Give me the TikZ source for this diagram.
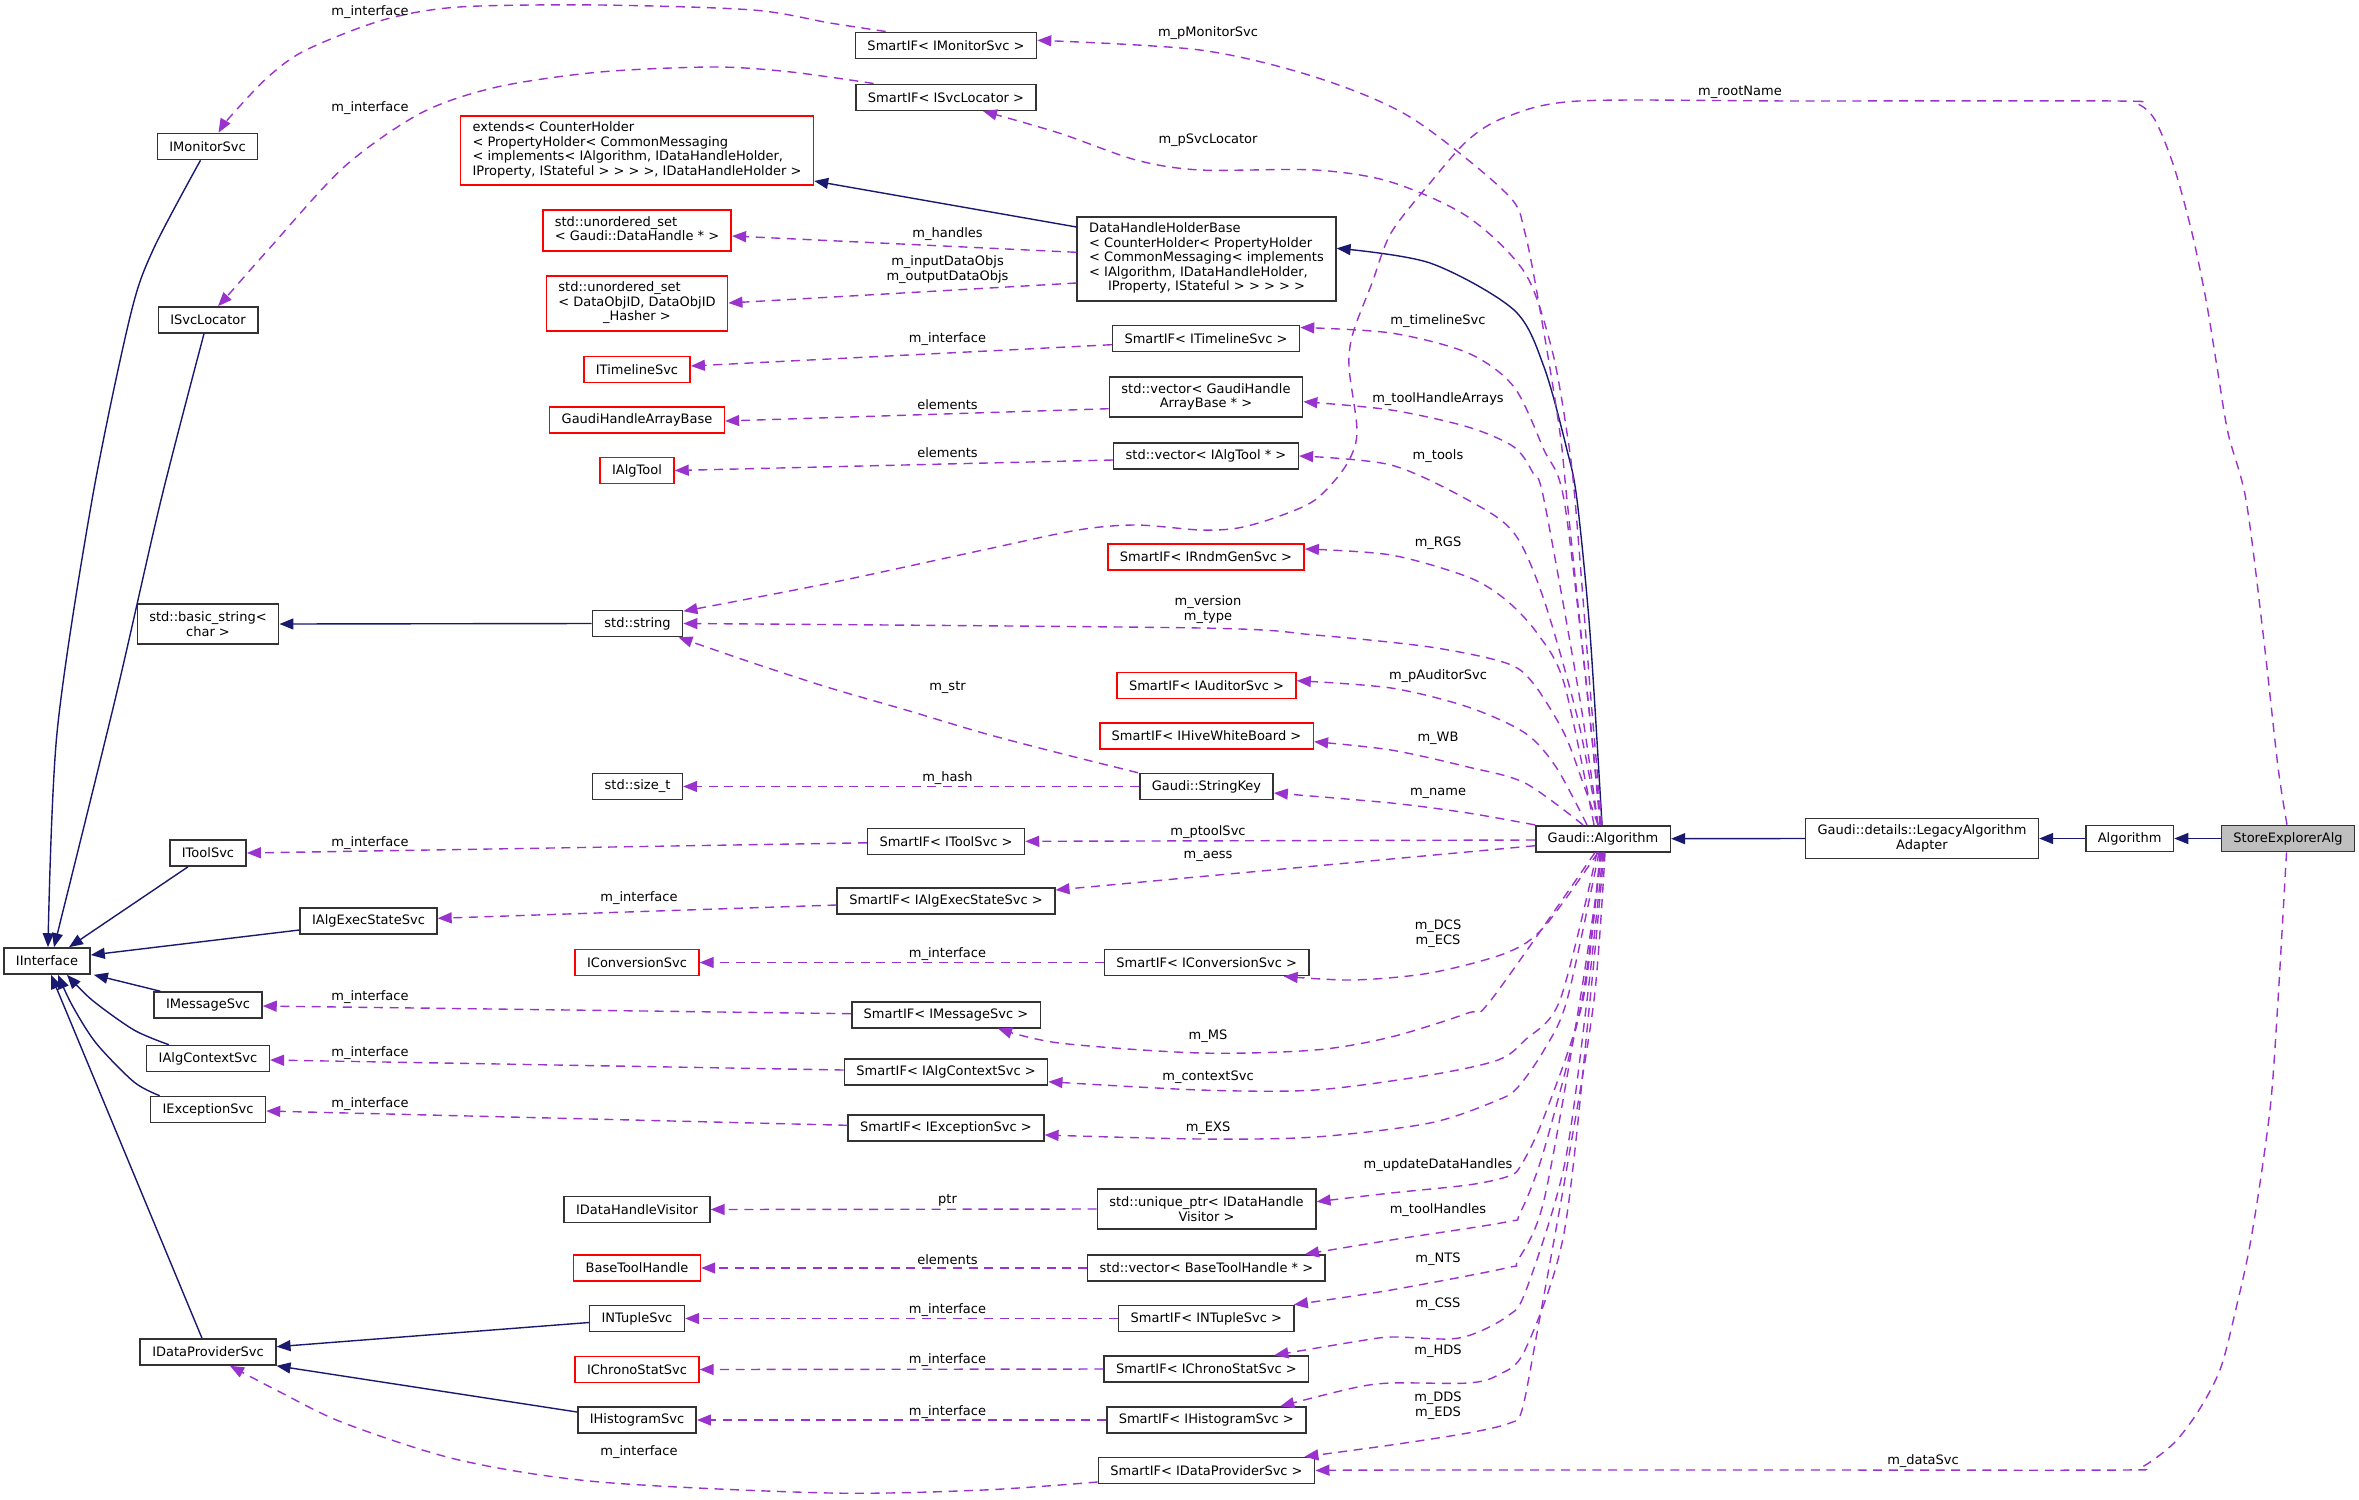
\documentclass[tikz,border=0pt]{standalone}
\usepackage{fontspec}
\setmainfont{DejaVu Sans}
\usetikzlibrary{arrows.meta,calc}
\definecolor{navyedge}{HTML}{191970}
\definecolor{orchidedge}{HTML}{9A32CD}
\definecolor{boxline}{HTML}{333333}
\definecolor{curfill}{HTML}{BFBFBF}
\newcommand{\lastcentered}[2]{\begin{tabular}{@{}l@{}}#1\\\multicolumn{1}{@{}c@{}}{#2}\end{tabular}}

\begin{document}
\begin{tikzpicture}[x=0.5pt,y=-0.5pt,font=\fontsize{6.5pt}{7.25pt}\selectfont,
	cls/.style={draw=boxline,line width=0.8pt,fill=white,inner xsep=6pt,inner ysep=0pt,minimum height=13pt},
	extcls/.style={cls,draw=red},
	curcls/.style={cls,fill=curfill},
	inherit/.style={navyedge,line width=0.7pt,-{Triangle[length=7pt,width=5.5pt]}},
	member/.style={orchidedge,line width=0.7pt,dash pattern=on 4.5pt off 3.3pt,-{Triangle[length=7pt,width=5.5pt]}},
	lbl/.style={inner sep=0pt,align=center}]
	\useasboundingbox (0,0) rectangle (2359,1499);

	%interfaces
	\node[cls] (iinterface) at (47,961) {IInterface};
	\node[cls] (imonitor) at (207.5,146.5) {IMonitorSvc};
	\node[cls] (isvcloc) at (208,320) {ISvcLocator};
	\node[cls,minimum height=20pt,align=center] (basicstr) at (208,624) {std::basic\_string<\\char >};
	\node[cls] (itoolsvc) at (208,853) {IToolSvc};
	\node[cls] (iaexec) at (368.5,921) {IAlgExecStateSvc};
	\node[cls] (imsgsvc) at (208,1005) {IMessageSvc};
	\node[cls] (ialgctx) at (208,1058.5) {IAlgContextSvc};
	\node[cls] (iexcsvc) at (208,1109.5) {IExceptionSvc};
	\node[cls] (idataprov) at (208,1352) {IDataProviderSvc};

	%used types
	\node[extcls,minimum height=34.5pt] (extends) at (637,150.5) {\lastcentered{extends< CounterHolder\\< PropertyHolder< CommonMessaging\\< implements< IAlgorithm, IDataHandleHolder,}{IProperty, IStateful > > > >, IDataHandleHolder >}};
	\node[extcls,minimum height=20.5pt] (usetdh) at (637,230.5) {\lastcentered{std::unordered\_set}{< Gaudi::DataHandle * >}};
	\node[extcls,minimum height=27.5pt] (usetobj) at (637,303.5) {\lastcentered{std::unordered\_set\\< DataObjID, DataObjID}{\_Hasher >}};
	\node[extcls] (itimeline) at (637,369.5) {ITimelineSvc};
	\node[extcls] (gharray) at (637,420) {GaudiHandleArrayBase};
	\node[extcls] (ialgtool) at (637,470.5) {IAlgTool};
	\node[cls] (stdstring) at (637.5,623.5) {std::string};
	\node[cls] (sizet) at (637.5,786.5) {std::size\_t};
	\node[extcls] (iconv) at (637,962.5) {IConversionSvc};
	\node[cls] (idhvisitor) at (637,1209.5) {IDataHandleVisitor};
	\node[extcls] (basetool) at (637,1268) {BaseToolHandle};
	\node[cls] (intuple) at (637,1318.5) {INTupleSvc};
	\node[extcls] (ichrono) at (637,1369.5) {IChronoStatSvc};
	\node[cls] (ihisto) at (637,1420) {IHistogramSvc};

	%members
	\node[cls] (spmon) at (946,45.3) {SmartIF< IMonitorSvc >};
	\node[cls] (spsvcloc) at (946,97.3) {SmartIF< ISvcLocator >};
	\node[cls,minimum height=42pt] (dhhb) at (1206.5,258.7) {\lastcentered{DataHandleHolderBase\\< CounterHolder< PropertyHolder\\< CommonMessaging< implements\\< IAlgorithm, IDataHandleHolder,}{IProperty, IStateful > > > > >}};
	\node[cls] (sptimeline) at (1206,338.5) {SmartIF< ITimelineSvc >};
	\node[cls,minimum height=20pt,align=center] (vecgh) at (1206,397) {std::vector< GaudiHandle\\ArrayBase * >};
	\node[cls] (vectool) at (1206,456) {std::vector< IAlgTool * >};
	\node[extcls] (sprndm) at (1206,557) {SmartIF< IRndmGenSvc >};
	\node[extcls] (spaudit) at (1206.5,685.5) {SmartIF< IAuditorSvc >};
	\node[extcls] (sphive) at (1206.5,736) {SmartIF< IHiveWhiteBoard >};
	\node[cls] (strkey) at (1206.4,786.5) {Gaudi::StringKey};
	\node[cls] (sptoolsvc) at (946,841.3) {SmartIF< IToolSvc >};
	\node[cls] (spaexec) at (946,901) {SmartIF< IAlgExecStateSvc >};
	\node[cls] (spconv) at (1206.7,962.5) {SmartIF< IConversionSvc >};
	\node[cls] (spmsg) at (946,1014.7) {SmartIF< IMessageSvc >};
	\node[cls] (spalgctx) at (946,1072) {SmartIF< IAlgContextSvc >};
	\node[cls] (spexc) at (946,1128) {SmartIF< IExceptionSvc >};
	\node[cls,minimum height=20pt,align=center] (uptr) at (1206.5,1209) {std::unique\_ptr< IDataHandle\\Visitor >};
	\node[cls] (vecbtool) at (1206.4,1268) {std::vector< BaseToolHandle * >};
	\node[cls] (spntuple) at (1206.3,1318.5) {SmartIF< INTupleSvc >};
	\node[cls] (spchrono) at (1206.4,1369) {SmartIF< IChronoStatSvc >};
	\node[cls] (sphisto) at (1206.3,1420) {SmartIF< IHistogramSvc >};
	\node[cls] (spdataprov) at (1206.5,1470.5) {SmartIF< IDataProviderSvc >};

	%class chain
	\node[cls] (galg) at (1603,838.7) {Gaudi::Algorithm};
	\node[cls,minimum height=20pt,align=center] (legacy) at (1922,838.5) {Gaudi::details::LegacyAlgorithm\\Adapter};
	\node[cls] (algorithm) at (2129.6,838.5) {Algorithm};
	\node[curcls] (storeexp) at (2288,838.5) {StoreExplorerAlg};

	%inheritance
	\draw[inherit] plot[smooth] coordinates {($(imonitor.south)+(-7,0)$) (153,250) (130,317) (92,500) (57,733) ($(iinterface.north)+(1,0)$)};
	\draw[inherit] plot[smooth] coordinates {($(isvcloc.south)+(-4,0)$) (161,500) (115,700) ($(iinterface.north)+(7,0)$)};
	\draw[inherit] ($(itoolsvc.south)+(-20,0)$) -- ($(iinterface.north)+(22,0)$);
	\draw[inherit] ($(iaexec.west)+(0,9)$) -- ($(iinterface.east)+(0,-6)$);
	\draw[inherit] ($(imsgsvc.north west)+(7,0)$) -- ($(iinterface.south east)+(3,0)$);
	\draw[inherit] plot[smooth] coordinates {($(ialgctx.north west)+(23,0)$) (134,1030) (92,1000) ($(iinterface.south)+(20,0)$)};
	\draw[inherit] plot[smooth] coordinates {($(iexcsvc.north west)+(10,0)$) (134,1082) (96,1043) (72,1005) ($(iinterface.south)+(11,0)$)};
	\draw[inherit] ($(idataprov.north)+(-6,0)$) -- ($(iinterface.south)+(4,0)$);
	\draw[inherit] ($(intuple.west)+(0,4)$) -- ($(idataprov.east)+(0,-5.3)$);
	\draw[inherit] ($(ihisto.west)+(0,-8)$) -- (idataprov.south east);
	\draw[inherit] (stdstring.west) -- (basicstr.east);
	\draw[inherit] ($(dhhb.west)+(0,-31.7)$) -- ($(extends.east)+(0,30.5)$);
	\draw[inherit] plot[smooth] coordinates {($(galg.north)+(-1,0)$) (1590,633) (1577,500) (1567,450) (1544,367) (1514,310) (1430,263) ($(dhhb.east)+(0,-10.4)$)};
	\draw[inherit] (legacy.west) -- (galg.east);
	\draw[inherit] (algorithm.west) -- (legacy.east);
	\draw[inherit] (storeexp.west) -- (algorithm.east);

	%Gaudi::Algorithm members, upper side
	\draw[member] plot[smooth] coordinates {($(galg.north)+(-2,0)$) (1588,700) (1567,500) (1560,433) (1544,333) (1525,233) (1506,193) (1410,117) (1315,77) (1200,50) ($(spmon.east)+(0,-5)$)};
	\draw[member] plot[smooth] coordinates {($(galg.north)+(-1,0)$) (1591,700) (1575,500) (1567,433) (1552,350) (1525,273) (1468,217) (1391,182) (1315,170) (1200,170) (1136,160) (1059,133) ($(spsvcloc.south)+(37,0)$)};
	\draw[member] plot[smooth] coordinates {($(galg.north)+(-3,0)$) (1588,700) (1564,500) (1544,450) (1514,387) (1468,353) (1391,333) ($(sptimeline.east)+(0,-11)$)};
	\draw[member] plot[smooth] coordinates {($(galg.north)+(-5,0)$) (1580,700) (1544,500) (1533,473) (1514,447) (1468,427) (1391,410) ($(vecgh.east)+(0,4.7)$)};
	\draw[member] plot[smooth] coordinates {($(galg.north)+(-5,0)$) (1578,720) (1544,600) (1514,533) (1468,500) (1391,465) (vectool.east)};
	\draw[member] plot[smooth] coordinates {($(galg.north)+(-9,0)$) (1564,683) (1537,633) (1506,600) (1468,577) (1391,555) ($(sprndm.east)+(0,-8)$)};
	\draw[member] plot[smooth] coordinates {($(galg.north)+(-5,0)$) (1583,783) (1564,733) (1533,683) (1506,663) (1430,647) (1315,635) (1200,628) (stdstring.east)};
	\draw[member] plot[smooth] coordinates {($(galg.north)+(-16,0)$) (1556,767) (1525,733) (1468,707) (1391,688) ($(spaudit.east)+(0,-4.8)$)};
	\draw[member] plot[smooth] coordinates {($(galg.north)+(-20,0)$) (1525,783) (1468,767) (1391,750) ($(sphive.east)+(0,5.7)$)};
	\draw[member] plot[smooth] coordinates {(galg.north west) (1468,813) (1391,803) ($(strkey.east)+(0,6.5)$)};
	\draw[member] ($(galg.west)+(0,1.3)$) -- (sptoolsvc.east);
	\draw[member] ($(galg.west)+(0,7)$) -- ($(spaexec.east)+(0,-11)$);

	%Gaudi::Algorithm members, lower side
	\draw[member] plot[smooth] coordinates {($(galg.south)+(-5,0)$) (1544,927) (1506,953) (1430,973) (1353,980) ($(spconv.south)+(77,0)$)};
	\draw[member] plot[smooth] coordinates {($(galg.south)+(-8,0)$) (1491,1000) (1468,1013) (1391,1037) (1315,1050) (1200,1053) (1059,1043) ($(spmsg.south)+(52,0)$)};
	\draw[member] plot[smooth] coordinates {($(galg.south)+(-6,0)$) (1560,1000) (1525,1040) (1498,1060) (1430,1075) (1315,1090) (1200,1090) ($(spalgctx.east)+(0,9.7)$)};
	\draw[member] plot[smooth] coordinates {($(galg.south)+(-4,0)$) (1567,1000) (1544,1050) (1518,1087) (1498,1100) (1430,1123) (1315,1137) (1200,1139) ($(spexc.east)+(0,7)$)};
	\draw[member] plot[smooth] coordinates {($(galg.south)+(-3,0)$) (1583,1000) (1544,1117) (1520,1167) (1506,1177) (1468,1185) (1391,1193) ($(uptr.east)+(0,-7.3)$)};
	\draw[member] plot[smooth] coordinates {($(galg.south)+(-2,0)$) (1582,1000) (1544,1150) (1520,1213) (1506,1222) (1391,1240) ($(vecbtool.north east)+(-21,0)$)};
	\draw[member] plot[smooth] coordinates {($(galg.south)+(-1,0)$) (1580,1000) (1544,1200) (1518,1260) (1506,1268) (1391,1290) ($(spntuple.north east)+(-1,0)$)};
	\draw[member] plot[smooth] coordinates {(galg.south) (1587,1000) (1564,1167) (1525,1293) (1506,1317) (1476,1333) (1449,1339) (1391,1337) (1353,1342) ($(spchrono.north)+(68,0)$)};
	\draw[member] plot[smooth] coordinates {($(galg.south)+(1,0)$) (1590,1000) (1564,1233) (1525,1350) (1498,1375) (1468,1383) (1391,1383) (1353,1388) ($(sphisto.north)+(74,0)$)};
	\draw[member] plot[smooth] coordinates {($(galg.south)+(2,0)$) (1594,1000) (1567,1167) (1537,1333) (1522,1410) (1510,1423) (1468,1433) (1391,1445) ($(spdataprov.north east)+(-11,0)$)};

	%StoreExplorerAlg members
	\draw[member] plot[smooth] coordinates {($(storeexp.north)+(-1,0)$) (2278,767) (2263,633) (2246,500) (2228,433) (2217,367) (2206,300) (2192,233) (2174,167) (2155,120) (2138,104) (2115,101) (1800,101) (1579,101) (1506,117) (1468,140) (1430,183) (1391,233) (1372,283) (1353,333) (1349,367) (1357,433) (1345,467) (1315,500) (1277,517) (1238,528) (1200,530) (1136,525) (1078,530) (983,550) (830,583) ($(stdstring.north east)+(0,1.5)$)};
	\draw[member] plot[smooth] coordinates {($(storeexp.south)+(-1.5,0)$) (2278,1000) (2271,1100) (2260,1183) (2249,1250) (2238,1300) (2221,1367) (2199,1410) (2174,1443) (2142,1467) (2120,1470) (1807,1470) (1400,1470) (spdataprov.east)};

	%members of the members
	\draw[member] plot[smooth] coordinates {($(spmon.north west)+(31,0)$) (830,23) (753,10) (600,5) (459,7) (383,20) (306,50) (268,77) (230,117) ($(imonitor.north)+(11,0)$)};
	\draw[member] plot[smooth] coordinates {($(spsvcloc.north west)+(18.5,0)$) (791,72) (715,67) (600,72) (497,87) (421,113) (344,167) (268,250) (230,293) ($(isvcloc.north)+(10,0)$)};
	\draw[member] ($(dhhb.west)+(0,-6.4)$) -- ($(usetdh.east)+(0,5.5)$);
	\draw[member] ($(dhhb.west)+(0,24.3)$) -- ($(usetobj.east)+(0,-0.5)$);
	\draw[member] ($(sptimeline.west)+(0,6.2)$) -- ($(itimeline.east)+(0,-3.5)$);
	\draw[member] ($(vecgh.west)+(0,11.7)$) -- ($(gharray.east)+(0,1)$);
	\draw[member] ($(vectool.west)+(0,4)$) -- (ialgtool.east);
	\draw[member] plot[smooth] coordinates {($(strkey.north west)+(-1,0)$) (1059,753) (983,733) (906,710) (830,688) (753,663) ($(stdstring.south east)+(-5,0)$)};
	\draw[member] (strkey.west) -- (sizet.east);
	\draw[member] ($(sptoolsvc.west)+(0,1.5)$) -- (itoolsvc.east);
	\draw[member] ($(spaexec.west)+(0,4)$) -- ($(iaexec.east)+(0,-2.7)$);
	\draw[member] (spconv.west) -- (iconv.east);
	\draw[member] ($(spmsg.west)+(0,-1)$) -- ($(imsgsvc.east)+(0,1)$);
	\draw[member] ($(spalgctx.west)+(0,-2)$) -- ($(ialgctx.east)+(0,1.5)$);
	\draw[member] ($(spexc.west)+(0,-2.7)$) -- ($(iexcsvc.east)+(0,1.5)$);
	\draw[member] (uptr.west) -- (idhvisitor.east);
	\draw[member] (vecbtool.west) -- (basetool.east);
	\draw[member] (spntuple.west) -- (intuple.east);
	\draw[member] (spchrono.west) -- (ichrono.east);
	\draw[member] (sphisto.west) -- (ihisto.east);
	\draw[member] plot[smooth] coordinates {($(spdataprov.west)+(0,11.5)$) (983,1490) (830,1493) (600,1482) (459,1460) (344,1423) (280,1392) ($(idataprov.south)+(22,0)$)};

	%labels
	\node[lbl] (lintmon) at (370,11.7) {m\_interface};
	\node[lbl] (lintsvc) at (370,107.7) {m\_interface};
	\node[lbl] (linttool) at (370,842.7) {m\_interface};
	\node[lbl] (lintmsg) at (370,996.7) {m\_interface};
	\node[lbl] (lintctx) at (370,1052.7) {m\_interface};
	\node[lbl] (lintexc) at (370,1103.7) {m\_interface};
	\node[lbl] (lintaexec) at (639,898.3) {m\_interface};
	\node[lbl] (lintdp) at (639,1451.7) {m\_interface};
	\node[lbl] (lhandles) at (947.5,234.3) {m\_handles};
	\node[lbl] (ldataobjs) at (947.5,269.7) {m\_inputDataObjs\\m\_outputDataObjs};
	\node[lbl] (linttime) at (947.5,339.3) {m\_interface};
	\node[lbl] (lelemgh) at (947.5,404.3) {elements};
	\node[lbl] (lelemtool) at (947.5,452.7) {elements};
	\node[lbl] (lstr) at (947.5,687.7) {m\_str};
	\node[lbl] (lhash) at (947.5,778.3) {m\_hash};
	\node[lbl] (lintconv) at (947.5,954.3) {m\_interface};
	\node[lbl] (lptr) at (947.5,1200.7) {ptr};
	\node[lbl] (lelembt) at (947.5,1259.7) {elements};
	\node[lbl] (lintnt) at (947.5,1310.3) {m\_interface};
	\node[lbl] (lintcs) at (947.5,1360.3) {m\_interface};
	\node[lbl] (linths) at (947.5,1411.7) {m\_interface};
	\node[lbl] (lpmon) at (1208,32.7) {m\_pMonitorSvc};
	\node[lbl] (lpsvc) at (1208,140.7) {m\_pSvcLocator};
	\node[lbl] (lversion) at (1208,609.7) {m\_version\\m\_type};
	\node[lbl] (lptool) at (1208,831.7) {m\_ptoolSvc};
	\node[lbl] (laess) at (1208,856.7) {m\_aess};
	\node[lbl] (lms) at (1208,1035.7) {m\_MS};
	\node[lbl] (lctx) at (1208,1076.7) {m\_contextSvc};
	\node[lbl] (lexs) at (1208,1127.7) {m\_EXS};
	\node[lbl] (ltimeline) at (1438,320.7) {m\_timelineSvc};
	\node[lbl] (ltharrays) at (1438,399.3) {m\_toolHandleArrays};
	\node[lbl] (ltools) at (1438,455.7) {m\_tools};
	\node[lbl] (lrgs) at (1438,543.7) {m\_RGS};
	\node[lbl] (laudit) at (1438,675.7) {m\_pAuditorSvc};
	\node[lbl] (lwb) at (1438,738.7) {m\_WB};
	\node[lbl] (lname) at (1438,793) {m\_name};
	\node[lbl] (ldcs) at (1438,933.7) {m\_DCS\\m\_ECS};
	\node[lbl] (lupdate) at (1438,1164.7) {m\_updateDataHandles};
	\node[lbl] (lthandles) at (1438,1210.3) {m\_toolHandles};
	\node[lbl] (lnts) at (1438,1258.7) {m\_NTS};
	\node[lbl] (lcss) at (1438,1303.7) {m\_CSS};
	\node[lbl] (lhds) at (1438,1350.7) {m\_HDS};
	\node[lbl] (ldds) at (1438,1405.7) {m\_DDS\\m\_EDS};
	\node[lbl] (lroot) at (1740,92.7) {m\_rootName};
	\node[lbl] (ldatasvc) at (1923,1460.7) {m\_dataSvc};
\end{tikzpicture}
\end{document}
